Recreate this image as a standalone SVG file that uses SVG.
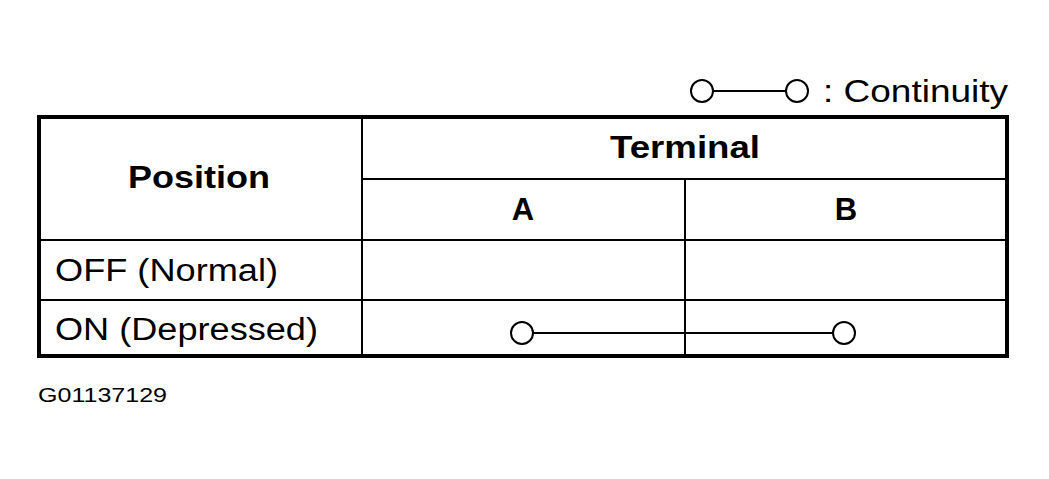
<svg xmlns="http://www.w3.org/2000/svg" width="1049" height="479" viewBox="0 0 1049 479">
<style>
.t{font-family:"Liberation Sans",Arial,sans-serif;fill:#000}
.b{font-weight:bold;font-size:31px;text-anchor:middle}
.r{font-size:31px}
.l{stroke:#000;stroke-width:2;fill:none}
.c{stroke:#000;stroke-width:2;fill:#fff}
</style>
<rect width="1049" height="479" fill="#fff"/>
<g id="legend">
<line class="l" x1="713" y1="91" x2="786" y2="91"/>
<circle class="c" cx="702" cy="91" r="11"/>
<circle class="c" cx="797" cy="91" r="11"/>
<text class="t r" x="823" y="102" textLength="185" lengthAdjust="spacingAndGlyphs">: Continuity</text>
</g>
<g id="table">
<rect x="39" y="117" width="968" height="239" fill="none" stroke="#000" stroke-width="4"/>
<line class="l" x1="362" y1="117" x2="362" y2="356"/>
<line class="l" x1="362" y1="179" x2="1007" y2="179"/>
<line class="l" x1="685" y1="179" x2="685" y2="356"/>
<line class="l" x1="39" y1="240" x2="1007" y2="240"/>
<line class="l" x1="39" y1="300" x2="1007" y2="300"/>
<text class="t b" x="199" y="188" textLength="142" lengthAdjust="spacingAndGlyphs">Position</text>
<text class="t b" x="685" y="158" textLength="150" lengthAdjust="spacingAndGlyphs">Terminal</text>
<text class="t b" x="523" y="220">A</text>
<text class="t b" x="846" y="220">B</text>
<text class="t r" x="55" y="281" textLength="223" lengthAdjust="spacingAndGlyphs">OFF (Normal)</text>
<text class="t r" x="55" y="340" textLength="263" lengthAdjust="spacingAndGlyphs">ON (Depressed)</text>
</g>
<g id="connectors">
<line class="l" x1="533" y1="333" x2="833" y2="333"/>
<circle class="c" cx="522" cy="333" r="11"/>
<circle class="c" cx="844" cy="333" r="11"/>
</g>
<text class="t" x="38" y="402" font-size="21" textLength="129" lengthAdjust="spacingAndGlyphs">G01137129</text>
</svg>
